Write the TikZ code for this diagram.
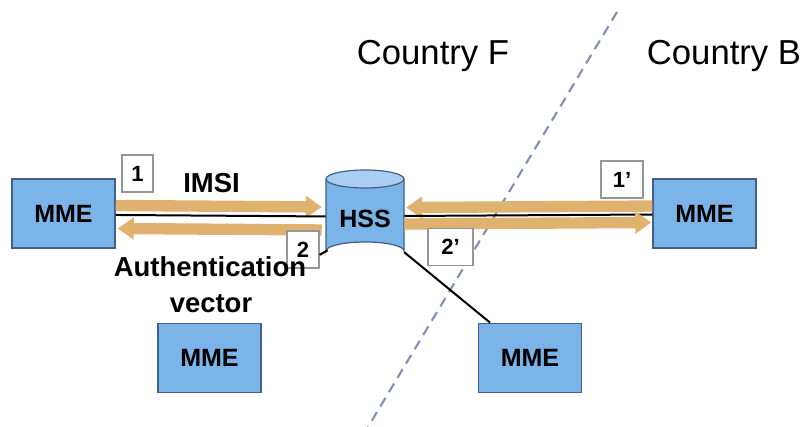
\documentclass[tikz,border=0pt]{standalone}
\usepackage{fontspec}
\setmainfont{Liberation Sans}
\usetikzlibrary{arrows.meta}
\definecolor{boxblue}{RGB}{122,180,232}
\definecolor{boxedge}{RGB}{66,96,136}
\definecolor{toplight}{RGB}{168,206,242}
\definecolor{tan}{RGB}{224,178,112}
\definecolor{dashcol}{RGB}{128,144,180}
\definecolor{numedge}{RGB}{150,150,150}
\begin{document}
\begin{tikzpicture}[x=0.75pt,y=-0.75pt,
  mme/.style={draw=boxedge,line width=1.1pt,fill=boxblue,minimum width=77.25pt,minimum height=52pt,inner sep=0pt,font=\fontsize{18.75pt}{20pt}\selectfont\bfseries},
  numbox/.style={draw=numedge,line width=0.8pt,fill=white,minimum height=27.75pt,inner sep=0pt,font=\fontsize{16.5pt}{18pt}\selectfont\bfseries},
  bigarrow/.style={draw=tan,line width=8.5pt,-{Triangle[length=12pt,width=16pt]}},
  link/.style={draw=black,line width=1.5pt},
  lbl/.style={font=\fontsize{20.6pt}{22pt}\selectfont\bfseries,anchor=base,inner sep=0pt},
  country/.style={font=\fontsize{26pt}{28pt}\selectfont,anchor=base,inner sep=0pt}]
\useasboundingbox (0,0) rectangle (807,427);

% dashed border
\coordinate (dtop) at (617,12);
\coordinate (dbot) at (368,427);
\draw[dashcol,line width=1.6pt,dash pattern=on 7.5pt off 5pt] (dtop) -- (dbot);

\node[country] (cf) at (433,65) {Country F};
\node[country] (cb) at (724,65) {Country B};

% nodes
\node[mme] (lmme) at (63.5,213.5) {MME};
\node[mme] (rmme) at (704.5,213.5) {MME};
\node[mme] (lbmme) at (209.5,358) {MME};
\node[mme] (rbmme) at (530,358) {MME};

% HSS cylinder
\node[minimum width=58.5pt,minimum height=67.5pt,inner sep=0pt] (hss) at (365,215) {};
\fill[boxblue] (326,179) -- (326,251) arc[start angle=180,end angle=360,x radius=39,y radius=9] -- (404,179) -- cycle;
\draw[boxedge,line width=0.9pt] (326,179) -- (326,251) arc[start angle=180,end angle=360,x radius=39,y radius=9] -- (404,179);
\draw[boxedge,line width=0.9pt,fill=toplight] (365,179) ellipse[x radius=39,y radius=9];
\node[font=\fontsize{18.75pt}{20pt}\selectfont\bfseries,inner sep=0pt] (hsslbl) at (365,219) {HSS};

% left side links
\draw[bigarrow,shorten >=3pt] ([yshift=6pt]lmme.east) -- ([yshift=6pt]hss.west);
\draw[link] ([yshift=-1.1pt]lmme.east) -- ([yshift=-1.1pt]hss.west);
\draw[bigarrow,shorten >=1.5pt,shorten <=3pt] ([yshift=-11.25pt]hss.west) -- ([yshift=-11.25pt]lmme.east);

% right side links
\draw[bigarrow,shorten >=1.5pt] ([yshift=5.6pt]rmme.west) -- ([yshift=5.6pt]hss.east);
\draw[link] ([yshift=-0.75pt]hss.east) -- ([yshift=-0.75pt]rmme.west);
\draw[bigarrow,shorten >=0.75pt] ([yshift=-6.75pt]hss.east) -- ([yshift=-6.75pt]rmme.west);

% HSS to lower right MME
\draw[link] ([yshift=6pt]hss.south east) -- ([xshift=-30pt]rbmme.north);

% number boxes
\node[numbox,minimum width=23.25pt] (n1) at (137.5,173.5) {1};
\node[numbox,minimum width=24pt] (n2) at (303,249.5) {2};
\node[numbox,minimum width=31.5pt] (n1p) at (622,179.5) {1’};
\node[numbox,minimum width=33.75pt] (n2p) at (450.5,247) {2’};
\draw[link] ([xshift=1.5pt,yshift=7.5pt]hss.south west) -- ([yshift=-4pt]n2.east);

% labels
\node[lbl] (imsi) at (211.5,192.5) {IMSI};
\node[lbl] (auth) at (210,276.5) {Authentication};
\node[lbl] (vec) at (211,313) {vector};
\end{tikzpicture}
\end{document}
